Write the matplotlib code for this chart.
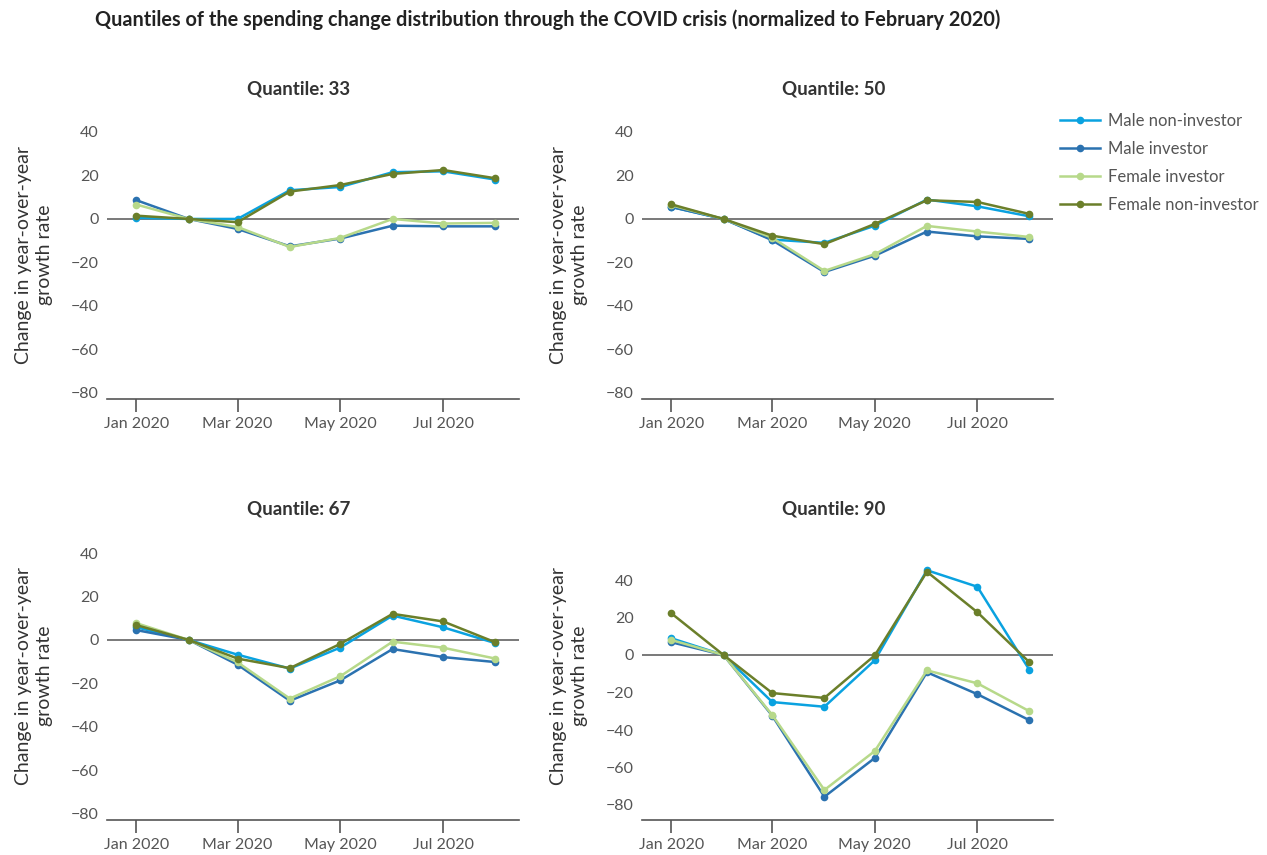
import matplotlib
matplotlib.use("Agg")
import matplotlib.pyplot as plt
import pandas as pd

plt.rcParams['font.family'] = ['Lato', 'DejaVu Sans']

months = pd.date_range('2020-01-01', periods=8, freq='MS')
series_names = ["Male non-investor", "Male investor", "Female investor", "Female non-investor"]
colors = ["#0aa2e0", "#2b72b0", "#b7d98a", "#6b7f2a"]

q33 = {
    "Male non-investor":   [0.5, 0, 0.0, 13.2, 14.7, 21.5, 21.9, 18.1],
    "Male investor":       [8.6, 0, -4.6, -12.6, -9.0, -3.1, -3.4, -3.4],
    "Female investor":     [6.6, 0, -3.7, -12.9, -8.7, 0.0, -2.1, -1.8],
    "Female non-investor": [1.5, 0, -1.5, 12.6, 15.6, 20.7, 22.5, 18.7],
}
q50 = {
    "Male non-investor":   [5.5, 0, -9.5, -11.0, -3.1, 8.9, 5.8, 1.2],
    "Male investor":       [5.5, 0, -9.8, -24.4, -16.9, -5.8, -8.0, -9.2],
    "Female investor":     [6.3, 0, -8.7, -23.9, -16.2, -3.2, -5.8, -8.3],
    "Female non-investor": [6.7, 0, -7.7, -11.6, -2.3, 8.6, 7.8, 2.3],
}
q67 = {
    "Male non-investor":   [5.8, 0, -6.8, -13.2, -3.5, 11.2, 5.8, -1.5],
    "Male investor":       [4.5, 0, -11.4, -28.0, -18.6, -4.2, -7.9, -10.2],
    "Female investor":     [7.7, 0, -10.3, -27.0, -16.7, -0.8, -3.6, -8.6],
    "Female non-investor": [6.8, 0, -8.6, -13.0, -1.8, 12.0, 8.5, -1.1],
}
q90 = {
    "Male non-investor":   [8.9, 0, -25.1, -27.6, -2.8, 45.2, 36.4, -8.0],
    "Male investor":       [6.8, 0, -32.4, -75.6, -54.9, -9.2, -20.9, -34.8],
    "Female investor":     [8.0, 0, -32.0, -72.0, -51.2, -8.2, -15.1, -30.0],
    "Female non-investor": [22.2, 0, -20.3, -22.9, -0.2, 44.4, 22.8, -3.9],
}
quantile_titles = ["Quantile: 33", "Quantile: 50", "Quantile: 67", "Quantile: 90"]
yticks = [40, 20, 0, -20, -40, -60, -80]
tick_dates = pd.to_datetime(['2020-01-01', '2020-03-01', '2020-05-01', '2020-07-01'])
tick_labels = ["Jan 2020", "Mar 2020", "May 2020", "Jul 2020"]

W, H = 1267, 855
fig = plt.figure(figsize=(W / 100, H / 100), dpi=100)

def px_axes(left, top, right, bottom):
    return fig.add_axes([left / W, 1 - bottom / H, (right - left) / W, (bottom - top) / H])

# (left, top, right, bottom) in pixels, ylim
specs = [
    ((107, 115, 519, 399), (-82.8, 47.8), q33),
    ((642, 115, 1053, 399), (-82.8, 47.8), q50),
    ((107, 535, 519, 820), (-82.9, 48.3), q67),
    ((642, 535, 1053, 820), (-88.0, 64.0), q90),
]

tick_color = "#555555"
lines_for_legend = None
for i, ((l, t, r, b), ylim, data) in enumerate(specs):
    ax = px_axes(l, t, r, b)
    ax.axhline(0, color="#555555", lw=1.1, zorder=1)
    handles = []
    for name, c in zip(series_names, colors):
        h, = ax.plot(months, data[name], color=c, lw=1.8, marker='o', ms=5.5,
                     markeredgewidth=0, zorder=3, label=name)
        handles.append(h)
    if lines_for_legend is None:
        lines_for_legend = handles
    ax.set_ylim(*ylim)
    ax.set_xlim(months[0] - pd.Timedelta(days=17.5), months[-1] + pd.Timedelta(days=14))
    ax.set_yticks(yticks)
    ax.set_yticklabels([str(v) if v >= 0 else "\u2212" + str(-v) for v in yticks])
    ax.set_xticks(tick_dates)
    ax.set_xticklabels(tick_labels)
    for s in ['top', 'right', 'left']:
        ax.spines[s].set_visible(False)
    ax.spines['bottom'].set_color("#555555")
    ax.spines['bottom'].set_linewidth(1.2)
    ax.tick_params(axis='y', length=0, pad=6, labelsize=11.5, labelcolor=tick_color)
    ax.tick_params(axis='x', length=9, width=1.2, color="#555555", pad=4,
                   labelsize=11.5, labelcolor=tick_color)
    ax.patch.set_alpha(0)
    # title
    cx = (l + r) / 2 - 14
    fig.text(cx / W, 1 - (t - 26) / H, quantile_titles[i], ha='center', va='center',
             fontsize=13.5, fontweight='bold', color="#333333")
    # y label
    ylx = l - 73
    fig.text(ylx / W, 1 - ((t + b) / 2 - 2) / H, "Change in year-over-year\ngrowth rate",
             ha='center', va='center', rotation=90, fontsize=14, color="#333333",
             linespacing=1.25)

fig.text(95 / W, 1 - 20 / H,
         "Quantiles of the spending change distribution through the COVID crisis (normalized to February 2020)",
         ha='left', va='center', fontsize=14.3, fontweight='bold', color="#222222")

fig.legend(lines_for_legend, series_names, loc='upper left',
           bbox_to_anchor=(1045 / W, 1 - 98 / H), frameon=False,
           fontsize=12, handlelength=2.4, handletextpad=0.45, labelspacing=0.72,
           labelcolor="#555555")

fig.savefig("out.png", dpi=100)
